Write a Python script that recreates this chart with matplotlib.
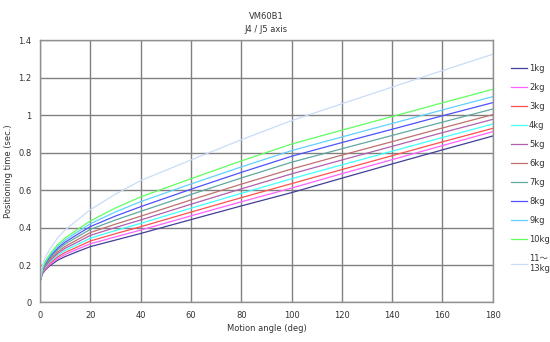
import matplotlib
matplotlib.use('Agg')
import matplotlib.pyplot as plt

plt.rcParams['font.family'] = ['DejaVu Sans', 'Noto Sans CJK JP']

# motion angle (deg)
angle = [0, 1, 2, 4, 7, 10, 15, 20, 30, 40, 60, 80, 100, 120, 140, 160, 180]

# positioning time (sec) per payload
t_1kg = [0.11, 0.153, 0.172, 0.197, 0.225, 0.245, 0.272, 0.298, 0.333, 0.368, 0.442, 0.515, 0.586, 0.663, 0.739, 0.814, 0.888]
t_2kg = [0.11, 0.157, 0.177, 0.203, 0.234, 0.256, 0.285, 0.313, 0.350, 0.386, 0.462, 0.537, 0.610, 0.687, 0.762, 0.837, 0.911]
t_3kg = [0.11, 0.160, 0.182, 0.210, 0.243, 0.267, 0.297, 0.328, 0.367, 0.404, 0.482, 0.559, 0.634, 0.709, 0.783, 0.857, 0.929]
t_4kg = [0.11, 0.164, 0.187, 0.217, 0.252, 0.278, 0.310, 0.343, 0.384, 0.422, 0.503, 0.582, 0.660, 0.734, 0.807, 0.880, 0.952]
t_5kg = [0.11, 0.167, 0.192, 0.224, 0.261, 0.289, 0.323, 0.358, 0.400, 0.440, 0.524, 0.606, 0.686, 0.760, 0.833, 0.906, 0.977]
t_6kg = [0.11, 0.170, 0.197, 0.231, 0.270, 0.299, 0.336, 0.373, 0.418, 0.460, 0.547, 0.631, 0.712, 0.786, 0.858, 0.931, 1.002]
t_7kg = [0.11, 0.174, 0.202, 0.239, 0.281, 0.312, 0.351, 0.390, 0.440, 0.486, 0.576, 0.664, 0.748, 0.820, 0.891, 0.962, 1.032]
t_8kg = [0.11, 0.178, 0.207, 0.246, 0.290, 0.322, 0.364, 0.405, 0.461, 0.511, 0.604, 0.694, 0.780, 0.853, 0.924, 0.996, 1.066]
t_9kg = [0.11, 0.181, 0.212, 0.253, 0.299, 0.333, 0.377, 0.420, 0.483, 0.538, 0.632, 0.723, 0.810, 0.883, 0.955, 1.027, 1.098]
t_10kg = [0.11, 0.185, 0.217, 0.260, 0.308, 0.344, 0.390, 0.435, 0.504, 0.563, 0.660, 0.755, 0.845, 0.919, 0.992, 1.065, 1.137]
t_13kg = [0.11, 0.199, 0.237, 0.287, 0.345, 0.387, 0.441, 0.495, 0.578, 0.650, 0.760, 0.868, 0.970, 1.060, 1.149, 1.237, 1.324]

labels = ['1kg', '2kg', '3kg', '4kg', '5kg', '6kg', '7kg', '8kg', '9kg', '10kg', '11～\n13kg']
series = [t_1kg, t_2kg, t_3kg, t_4kg, t_5kg, t_6kg, t_7kg, t_8kg, t_9kg, t_10kg, t_13kg]
colors = ['#404098', '#ff60ff', '#ff5050', '#40ffff', '#b060b0', '#c07070',
          '#60a8a0', '#5050ff', '#60d0ff', '#60ff60', '#c8dcf8']

fig = plt.figure(figsize=(5.5, 3.42), dpi=100)
ax = fig.add_axes([0.0727, 0.1155, 0.8233, 0.7675])

for vals, lab, col in zip(series, labels, colors):
    ax.plot(angle, vals, color=col, lw=0.9, label=lab)

ax.set_xlim(0, 180)
ax.set_ylim(0, 1.4)
ax.set_xticks(range(0, 181, 20))
ax.set_yticks([0, 0.2, 0.4, 0.6, 0.8, 1.0, 1.2, 1.4])
ax.set_yticklabels(['0', '0.2', '0.4', '0.6', '0.8', '1', '1.2', '1.4'])
ax.grid(True, color='#808080', lw=1.0)
ax.set_axisbelow(True)
ax.tick_params(length=0, labelsize=6, colors='#333333', pad=6)
for s in ax.spines.values():
    s.set_color('#909090')
    s.set_linewidth(1.0)

ax.set_xlabel('Motion angle (deg)', fontsize=6, color='#333333', labelpad=3)
ax.set_ylabel('Positioning time (sec.)', fontsize=6, color='#333333', labelpad=4)
ax.set_title('VM60B1\nJ4 / J5 axis', fontsize=6, color='#333333', pad=6, linespacing=1.5)

fig.legend(loc='upper left', bbox_to_anchor=(0.915, 0.835), frameon=False,
           fontsize=6, handlelength=1.9, handletextpad=0.3, labelspacing=1.2,
           labelcolor='#333333')

fig.savefig('out.png', dpi=100)
